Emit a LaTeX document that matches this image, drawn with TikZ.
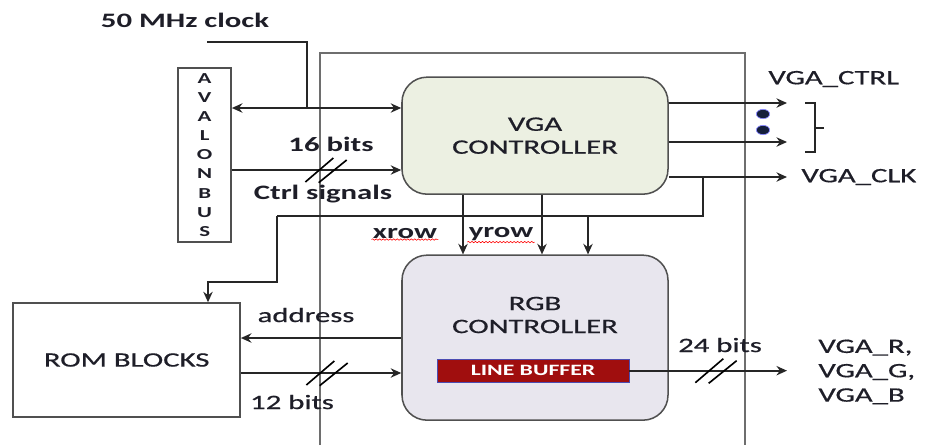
\documentclass[tikz,border=0pt]{standalone}
\usepackage{fontspec}
\setmainfont{Carlito}[FakeStretch=1.5, UprightFeatures={FakeBold=0.6}]
\usetikzlibrary{arrows.meta,positioning,calc,decorations.pathmorphing}
\definecolor{vgagreen}{RGB}{236,240,226}
\definecolor{rgblilac}{RGB}{232,230,238}
\definecolor{bufred}{RGB}{160,14,14}
\definecolor{edgegray}{RGB}{80,80,80}
\definecolor{framegray}{RGB}{110,110,110}
\definecolor{inkdark}{RGB}{30,30,40}
\definecolor{dotnavy}{RGB}{20,30,60}
\tikzset{
  ctrlblock/.style={draw=edgegray, line width=1.3pt, rounded corners=0.75cm,
    minimum width=7.98cm, align=center, inner sep=0pt},
  plainblock/.style={draw=edgegray, line width=1.2pt, fill=white, align=center},
  wire/.style={line width=1.6pt, draw=black!85},
  arr/.style={wire, -{Stealth[length=9pt,width=8pt]}},
  biarr/.style={wire, {Stealth[length=9pt,width=8pt]}-{Stealth[length=9pt,width=8pt]}},
  lbl/.style={font=\fontsize{17.5}{19.6}\selectfont, text=inkdark, inner sep=1pt, align=center},
  blbl/.style={lbl, font=\fontsize{17.5}{19.6}\selectfont\bfseries},
  squiggle/.style={red, line width=0.5pt, decorate,
    decoration={snake, amplitude=0.6pt, segment length=3pt}},
  dslash/.pic={\draw[line width=1.4pt] (-0.62,-0.36) -- (0.22,0.36)
    (-0.22,-0.38) -- (0.62,0.30);}
}

\begin{document}
\begin{tikzpicture}
  \useasboundingbox (0,0) rectangle (27.81,-13.35);
  % FPGA frame, open at the bottom
  \draw[framegray, line width=1.3pt] (9.60,-13.35) |- (22.35,-1.59) -- (22.35,-13.35);

  % blocks
  \node[plainblock, minimum width=1.59cm, minimum height=5.22cm,
    font=\fontsize{13}{16.3}\selectfont\bfseries, text=inkdark] (avalon) at (6.14,-4.65)
    {A\\V\\A\\L\\O\\N\\B\\U\\S};
  \node[ctrlblock, fill=vgagreen, minimum height=3.51cm, lbl] (vga) at (16.05,-4.07)
    {VGA\\CONTROLLER};
  \node[ctrlblock, fill=rgblilac, minimum height=4.95cm] (rgb) at (16.05,-10.13) {};
  \node[lbl] (rgbtxt) at (16.05,-9.45) {RGB\\CONTROLLER};
  \node[draw=blue!40!gray, fill=bufred, text=white, minimum width=5.76cm,
    minimum height=0.69cm, font=\fontsize{13.5}{15}\selectfont\bfseries]
    (linebuf) at (15.99,-11.12) {LINE BUFFER};
  \node[plainblock, lbl, minimum width=6.81cm, minimum height=3.42cm] (rom)
    at (3.80,-10.80) {ROM BLOCKS};

  % clock and avalon bus
  \node[blbl] (clktxt) at (5.55,-0.60) {50 MHz clock};
  \coordinate (clkin) at (6.21,-1.26);
  \coordinate (clkjoin) at (9.21,-3.24);
  \draw[wire] (clkin) -| (clkjoin);
  \draw[biarr] (avalon.east |- clkjoin) -- (vga.west |- clkjoin);
  \coordinate (ctrlrow) at (9.78,-5.10);
  \draw[arr] (avalon.east |- ctrlrow) -- (vga.west |- ctrlrow);
  \pic at (ctrlrow) {dslash};
  \node[blbl] (bits16) at (9.93,-4.32) {16 bits};
  \node[blbl] (ctrltxt) at (9.69,-5.82) {Ctrl signals};

  % vga outputs
  \coordinate (ctrlA) at (23.61,-3.09);
  \coordinate (ctrlB) at (23.61,-4.26);
  \coordinate (clkout) at (23.61,-5.31);
  \draw[arr] (vga.east |- ctrlA) -- (ctrlA);
  \draw[arr] (vga.east |- ctrlB) -- (ctrlB);
  \draw[arr] (vga.east |- clkout) -- (clkout);
  \fill[dotnavy, draw=blue!45, line width=0.6pt] (22.89,-3.42) ellipse (0.2 and 0.14)
    (22.89,-3.90) ellipse (0.2 and 0.14);
  \draw[line width=1.4pt, draw=black!85] (24.15,-3.09) -- (24.45,-3.09) -- (24.45,-4.56)
    -- (24.15,-4.56) (24.45,-3.84) -- (24.72,-3.84);
  \node[lbl, anchor=west] (ctrlpins) at (23.01,-2.37) {VGA\_CTRL};
  \node[lbl, anchor=west] (clkpin) at (24.0,-5.31) {VGA\_CLK};

  % vga -> rgb / rom
  \coordinate (clktap) at (21.09,-5.31);
  \coordinate (bend1) at (8.31,-6.48);
  \coordinate (bend2) at (6.24,-8.46);
  \coordinate (tap2) at (17.64,-6.48);
  \coordinate (xcol) at (13.89,0);
  \coordinate (ycol) at (16.26,0);
  \draw[wire] (clktap) |- (bend1);
  \draw[arr] (bend1) |- (bend2) -- (bend2 |- rom.north);
  \draw[arr] (tap2) -- (tap2 |- rgb.north);
  \draw[arr] (vga.south -| xcol) -- (rgb.north -| xcol);
  \draw[arr] (vga.south -| ycol) -- (rgb.north -| ycol);
  \node[blbl] (xrowtxt) at (12.15,-6.99) {xrow};
  \node[blbl] (yrowtxt) at (15.03,-7.02) {yrow};
  \draw[squiggle] (xrowtxt.south west) -- (xrowtxt.south east);
  \draw[squiggle] (yrowtxt.south west) -- (yrowtxt.south east);

  % rom <-> rgb
  \coordinate (addrrow) at (0,-10.14);
  \coordinate (datarow) at (9.81,-11.19);
  \draw[arr] (rgb.west |- addrrow) -- (rom.east |- addrrow);
  \node[lbl] (addrtxt) at (9.18,-9.45) {address};
  \draw[arr] (rom.east |- datarow) -- (rgb.west |- datarow);
  \pic at (datarow) {dslash};
  \node[lbl] (bits12) at (8.76,-12.06) {12 bits};

  % pixel outputs
  \coordinate (rgbout) at (23.61,-11.12);
  \coordinate (pixbus) at (21.48,-11.12);
  \draw[arr] (linebuf.east) -- (rgbout);
  \pic at (pixbus) {dslash};
  \node[lbl] (bits24) at (21.6,-10.35) {24 bits};
  \node[lbl, anchor=west, align=left, font=\fontsize{17.5}{20.8}\selectfont]
    (rgbpins) at (24.51,-11.16) {VGA\_R,\\VGA\_G,\\VGA\_B};
\end{tikzpicture}
\end{document}
